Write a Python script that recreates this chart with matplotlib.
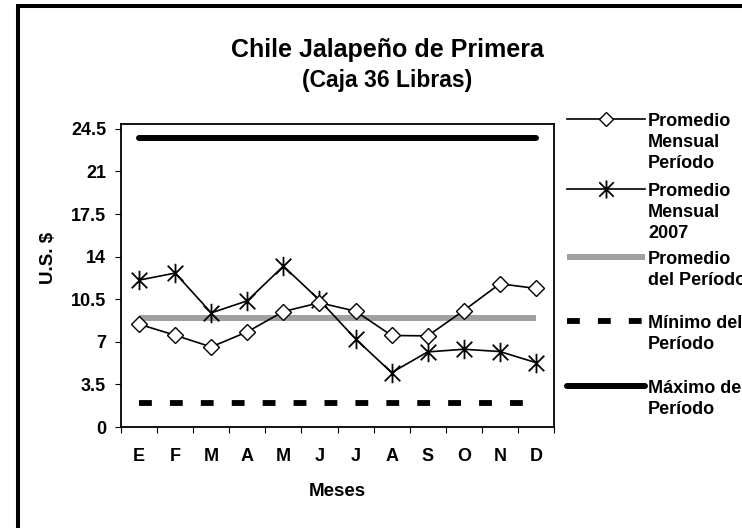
import numpy as np
import matplotlib
matplotlib.use("Agg")
import matplotlib.pyplot as plt
from matplotlib.path import Path
from matplotlib.lines import Line2D
from matplotlib.patches import Rectangle

plt.rcParams['font.family'] = ['Liberation Sans', 'DejaVu Sans']
plt.rcParams['font.weight'] = 'bold'

# Datos
meses = ['E', 'F', 'M', 'A', 'M', 'J', 'J', 'A', 'S', 'O', 'N', 'D']
prom_mensual_periodo = [8.45, 7.54, 6.58, 7.82, 9.49, 10.21, 9.52, 7.52, 7.49, 9.57, 11.77, 11.39]
prom_mensual_2007 = [12.07, 12.65, 9.38, 10.37, 13.22, 10.43, 7.24, 4.47, 6.17, 6.39, 6.20, 5.29]
prom_periodo = 8.92
minimo_periodo = 1.98
maximo_periodo = 23.76
yticks = [0, 3.5, 7, 10.5, 14, 17.5, 21, 24.5]

W, H = 742, 528
fig = plt.figure(figsize=(W / 100, H / 100), dpi=100)
ax = fig.add_axes([121 / W, 1 - 427 / H, (554 - 121) / W, (427 - 124) / H])

x = np.arange(len(meses))

# marcador estrella tipo Excel (X + linea vertical)
star = Path([(0, -1), (0, 1), (-0.8, -0.8), (0.8, 0.8), (-0.8, 0.8), (0.8, -0.8)],
            [Path.MOVETO, Path.LINETO, Path.MOVETO, Path.LINETO, Path.MOVETO, Path.LINETO])

st_max = dict(color='black', lw=4.3, solid_capstyle='round')
st_min = dict(color='black', lw=4.2, dashes=(2.2, 3.1), dash_capstyle='butt')
st_prom = dict(color='#a0a0a0', lw=4.3, solid_capstyle='butt')
st_pm = dict(color='black', lw=1.2, marker='D', markersize=8, markerfacecolor='white',
             markeredgecolor='black', markeredgewidth=1.0)
st_07 = dict(color='black', lw=1.2, marker=star, markersize=14, markeredgewidth=1.3)

ax.plot(x, [maximo_periodo] * len(x), **st_max)
ax.plot(x, [minimo_periodo] * len(x), **st_min)
ax.plot(x, [prom_periodo] * len(x), **st_prom)
ax.plot(x, prom_mensual_2007, **st_07)
ax.plot(x, prom_mensual_periodo, **st_pm)

ax.set_xlim(-0.5, len(meses) - 0.5)
ax.set_ylim(0, 24.9)
ax.set_yticks(yticks)
ax.set_yticklabels(['%g' % v for v in yticks])
ax.set_xticks(np.arange(len(meses) + 1) - 0.5)
ax.set_xticklabels([])
ax.set_xticks(x, minor=True)
ax.set_xticklabels(meses, minor=True)
ax.tick_params(axis='y', length=4.3, width=0.8, pad=6.5, labelsize=13)
ax.tick_params(axis='x', which='major', length=4.3, width=0.8)
ax.tick_params(axis='x', which='minor', length=0, pad=15, labelsize=13)
for s in ax.spines.values():
    s.set_linewidth(1.3)

ax.set_xlabel('Meses', fontsize=13.5, fontweight='bold')
ax.xaxis.set_label_coords(0.5, (427 - 483) / 303)
ax.set_ylabel('U.S. $', fontsize=13.5, fontweight='bold')
ax.yaxis.set_label_coords((57 - 121) / 433, (427 - 258) / 303)

fig.text(387 / W, 1 - 57 / H, 'Chile Jalapeño de Primera', ha='center', va='baseline',
         fontsize=18, fontweight='bold')
fig.text(387 / W, 1 - 87 / H, '(Caja 36 Libras)', ha='center', va='baseline',
         fontsize=16.5, fontweight='bold')

# leyenda dibujada a mano (la linea queda a la altura de la primera linea de texto)
entradas = [
    (119, ['Promedio', 'Mensual', 'Período'], st_pm),
    (189, ['Promedio', 'Mensual', '2007'], st_07),
    (257, ['Promedio', 'del Período'], st_prom),
    (321, ['Mínimo del', 'Período'], st_min),
    (386, ['Máximo del', 'Período'], st_max),
]
for yy, lineas, st in entradas:
    st = dict(st)
    mk = st.pop('marker', None)
    ms = st.pop('markersize', None)
    mfc = st.pop('markerfacecolor', 'black')
    mec = st.pop('markeredgecolor', 'black')
    mew = st.pop('markeredgewidth', None)
    fy = 1 - yy / H
    fig.add_artist(Line2D([567 / W, 645 / W], [fy, fy], transform=fig.transFigure, **st))
    if mk is not None:
        fig.add_artist(Line2D([606 / W], [fy], transform=fig.transFigure, marker=mk,
                              markersize=ms - 1, markerfacecolor=mfc,
                              markeredgecolor=mec, markeredgewidth=mew, linestyle='none'))
    for i, txt in enumerate(lineas):
        fig.text(648 / W, 1 - (yy + 7 + 21 * i) / H, txt, ha='left', va='baseline',
                 fontsize=13, fontweight='bold')

# marco exterior del grafico
fig.add_artist(Rectangle((18 / W, -0.1), 1.2, 1.1 - 6 / H, transform=fig.transFigure,
                         fill=False, edgecolor='black', lw=2.9, clip_on=False))

fig.savefig('out.png', dpi=100)
